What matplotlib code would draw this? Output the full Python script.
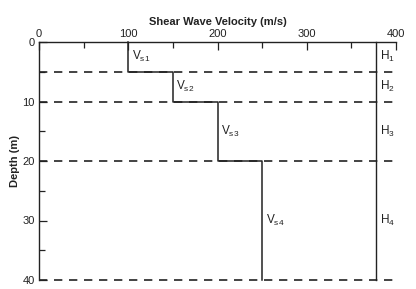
import matplotlib.pyplot as plt
from matplotlib.ticker import MultipleLocator

plt.rcParams['font.family'] = ['Liberation Sans', 'DejaVu Sans']
plt.rcParams['mathtext.fontset'] = 'custom'
plt.rcParams['mathtext.rm'] = 'Liberation Sans'

# layer profile
layer_tops = [0, 5, 10, 20]
layer_bottoms = [5, 10, 20, 40]
vs = [100, 150, 200, 250]
vs_labels = ['V$_\\mathrm{s1}$', 'V$_\\mathrm{s2}$', 'V$_\\mathrm{s3}$', 'V$_\\mathrm{s4}$']
h_labels = ['H$_\\mathrm{1}$', 'H$_\\mathrm{2}$', 'H$_\\mathrm{3}$', 'H$_\\mathrm{4}$']
boundaries = [5, 10, 20, 40]
h_line_x = 378

fig = plt.figure(figsize=(4.16, 2.89), dpi=100)
ax = fig.add_axes([39 / 416, 1 - 280 / 289, 357 / 416, 238 / 289])

col = '#222222'
# step profile
xs, ys = [], []
for top, bot, v in zip(layer_tops, layer_bottoms, vs):
    xs += [v, v]
    ys += [top, bot]
ax.plot(xs, ys, color=col, lw=1.1, clip_on=False)

for b in boundaries:
    ax.plot([0, 397], [b, b], color=col, lw=1.2, ls=(0, (5, 4)), clip_on=False)

ax.plot([h_line_x, h_line_x], [0, 40], color=col, lw=1.0, clip_on=False)

for top, bot, v, lab in zip(layer_tops, layer_bottoms, vs, vs_labels):
    mid = (top + bot) / 2
    ax.text(v + 4, mid, lab, fontsize=8.5, va='center', ha='left', color=col)
for top, bot, lab in zip(layer_tops, layer_bottoms, h_labels):
    mid = (top + bot) / 2
    ax.text(h_line_x + 4, mid, lab, fontsize=8.5, va='center', ha='left', color=col)

ax.set_xlim(0, 400)
ax.set_ylim(40, 0)
ax.xaxis.tick_top()
ax.xaxis.set_label_position('top')
ax.xaxis.set_major_locator(MultipleLocator(100))
ax.xaxis.set_minor_locator(MultipleLocator(50))
ax.yaxis.set_major_locator(MultipleLocator(10))
ax.yaxis.set_minor_locator(MultipleLocator(5))
ax.tick_params(which='both', direction='in', labelsize=8, colors=col, width=0.9)
ax.tick_params(which='major', length=6)
ax.tick_params(which='minor', length=4)
ax.tick_params(axis='x', pad=2)
ax.tick_params(axis='y', pad=3)
for s in ['right', 'bottom']:
    ax.spines[s].set_visible(False)
for s in ['left', 'top']:
    ax.spines[s].set_color(col)
    ax.spines[s].set_linewidth(1.0)

ax.set_xlabel('Shear Wave Velocity (m/s)', fontsize=8, fontweight='bold', color=col, labelpad=3)
ax.set_ylabel('Depth (m)', fontsize=8, fontweight='bold', color=col, labelpad=2)

fig.savefig('out.png', dpi=100)
